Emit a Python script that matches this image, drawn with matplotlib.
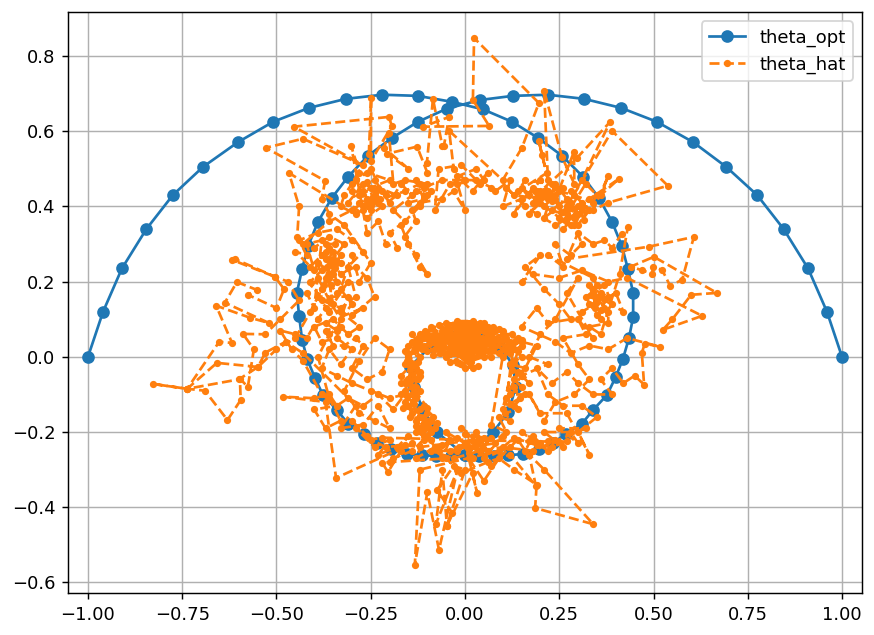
import matplotlib

matplotlib.use("Agg")
import matplotlib.pyplot as plt

# theta_opt, one closed-ish path with a hidden inner loop
opt_outer_left = [(-1.0, 0.0), (-.96, .12), (-.91, .235), (-.845, .34), (-.775, .43), (-.695, .505),
                  (-.602, .571), (-.509, .625), (-.414, .662), (-.316, .686), (-.22, .697),
                  (-.125, .694), (-.034, .678)]
opt_inner_right = [(.048, .658), (.125, .625), (.194, .582), (.257, .535), (.313, .479), (.355, .423),
                   (.39, .359), (.416, .295), (.432, .234), (.446, .17), (.446, .106), (.435, .05),
                   (.419, -.005), (.4, -.053), (.377, -.101), (.34, -.141), (.31, -.178),
                   (.268, -.205), (.233, -.229), (.195, -.245), (.154, -.258), (.115, -.262),
                   (.077, -.263), (.038, -.264), (0.0, -.262)]
opt_inner_loop = [(.075, -.2), (.115, -.146), (.135, -.08), (.127, -.021), (.09, .03), (.04, .055),
                  (-.04, .055), (-.09, .03), (-.146, -.027), (-.135, -.08), (-.114, -.135),
                  (-.075, -.2), (0.0, -.262)]
opt_inner_left = [(-.038, -.264), (-.077, -.263), (-.115, -.262), (-.154, -.258), (-.195, -.245),
                  (-.233, -.229), (-.268, -.205), (-.31, -.178), (-.34, -.141), (-.377, -.101),
                  (-.398, -.056), (-.419, -.005), (-.432, .045), (-.44, .109), (-.446, .17),
                  (-.432, .234), (-.416, .295), (-.39, .359), (-.353, .423), (-.31, .479),
                  (-.257, .535), (-.194, .582), (-.125, .625), (-.048, .66)]
opt_outer_right = [(.04, .683), (.127, .694), (.22, .697), (.316, .686), (.414, .662), (.509, .625),
                   (.605, .571), (.693, .505), (.775, .43), (.845, .34), (.91, .235), (.96, .12),
                   (1.0, 0.0)]

# theta_hat, traced region by region
hat_ring_top = [(.0, .02), (.03, .06), (-.02, .07), (.05, .03), (-.04, .04), (.01, -.01), (.06, .06),
                (-.06, .07), (.02, .08), (-.03, .01), (.07, .02), (-.07, .03), (.0, .05), (.04, .09),
                (-.05, .09), (.08, .07), (-.08, .06), (.02, -.03), (-.01, -.02), (.05, .0), (-.05, .0),
                (.03, .03), (-.02, .05), (.09, .04), (-.1, .05), (.0, .09), (.06, .08), (-.06, .05),
                (.11, .05), (-.11, .03), (.03, .07), (-.03, .08), (.01, .04), (-.01, .06), (.04, .01),
                (-.04, .02), (.07, .05), (-.09, .08), (.1, .07), (-.12, .06), (.12, .04), (-.13, .03),
                (.0, .0), (.02, .06), (-.02, .02), (.05, .07), (-.05, .06), (.08, .03), (-.08, .02),
                (.0, .07), (.14, .05), (.12, .01), (.15, .03), (.1, .02), (.06, .04), (.0, .03),
                (.025, .015), (-.015, .035), (.045, .05), (-.035, .06), (.065, .035), (-.055, .025),
                (.015, -.015), (-.025, -.01), (.035, -.025), (.0, -.03), (-.04, -.015), (.06, .015),
                (.085, .05), (-.075, .05), (.1, .045), (-.095, .035), (.075, .08), (-.07, .085),
                (.02, .095), (-.02, .095), (.05, .09), (-.045, .075), (.09, .075), (-.105, .07),
                (.125, .06), (-.125, .045), (.11, .03), (-.1, .015), (.09, .01), (-.085, .005),
                (.07, .0), (-.065, .01), (.035, .04), (.01, .075), (-.01, .02), (.02, .0)]
hat_ring_left = [(-.11, .05), (-.14, .04), (-.12, .0), (-.15, .01), (-.13, -.03), (-.16, -.02),
                 (-.12, -.05), (-.15, -.06), (-.14, -.02), (-.17, -.05), (-.13, -.08), (-.16, -.09),
                 (-.14, -.06), (-.17, -.1), (-.13, -.11), (-.15, -.13), (-.12, -.09), (-.16, -.12),
                 (-.14, -.15), (-.11, -.13), (-.13, -.17), (-.1, -.15), (-.12, -.19), (-.09, -.17),
                 (-.11, -.21), (-.08, -.19), (-.1, -.18), (-.13, -.2), (-.09, -.22), (-.12, -.16),
                 (-.14, -.1), (-.12, -.04), (-.15, .0), (-.12, .03), (-.1, .06), (-.13, .02),
                 (-.15, .03), (-.135, .015), (-.155, -.01), (-.125, -.015), (-.145, -.035), (-.125, -.06),
                 (-.16, -.07), (-.13, -.095), (-.155, -.105), (-.135, -.125), (-.165, -.135),
                 (-.12, -.14), (-.145, -.16), (-.11, -.165), (-.13, -.185), (-.095, -.19), (-.115, -.2),
                 (-.075, -.175), (-.09, -.2), (-.105, -.17), (-.085, -.16), (-.1, -.135), (-.14, -.08),
                 (-.17, -.07), (-.14, -.045), (-.16, .015), (-.125, .05), (-.14, .06), (-.115, .02)]
hat_ring_right = [(.12, .03), (.15, .0), (.12, -.02), (.16, -.03), (.13, -.06), (.15, -.08), (.12, -.1),
                  (.16, -.1), (.13, -.13), (.11, -.11), (.14, -.04), (.17, -.07), (.13, -.01),
                  (.1, -.14), (.12, -.17), (.09, -.16), (.11, -.2), (.07, -.18), (.1, .0), (.13, .02),
                  (.14, .015), (.125, -.035), (.15, -.05), (.13, -.08), (.145, -.11), (.12, -.125),
                  (.14, -.14), (.105, -.15), (.13, .04), (.15, .045), (.11, .015)]
hat_band = [(-.3, -.17), (-.26, -.21), (-.29, -.19), (-.24, -.24), (-.2, -.22), (-.23, -.26), (-.18, -.24),
            (-.15, -.21), (-.19, -.27), (-.14, -.25), (-.11, -.22), (-.13, -.27), (-.08, -.24), (-.1, -.21),
            (-.06, -.27), (-.04, -.22), (-.07, -.25), (-.02, -.25), (-.05, -.2), (.0, -.23), (.02, -.27),
            (.04, -.22), (-.01, -.19), (.06, -.25), (.03, -.2), (.08, -.23), (.01, -.24), (.1, -.21),
            (.05, -.27), (.12, -.24), (.07, -.29), (.14, -.22), (.16, -.25), (.18, -.21), (.2, -.23),
            (.15, -.2), (.22, -.25), (.24, -.22), (.26, -.24), (.21, -.2), (.28, -.2), (.3, -.23),
            (.25, -.19), (.32, -.19), (.18, -.25), (.1, -.24), (.04, -.25), (-.03, -.27), (-.09, -.25),
            (-.06, -.235), (-.02, -.215), (.01, -.255), (.03, -.235), (-.04, -.25), (.05, -.215),
            (.0, -.205), (.02, -.225), (-.015, -.24), (.045, -.245), (.07, -.215), (-.12, -.24),
            (-.16, -.235), (-.21, -.24), (-.25, -.22), (-.22, -.215), (.17, -.225), (.22, -.225),
            (.27, -.225), (.23, -.24), (.19, -.235), (.13, -.215), (.09, -.25)]
hat_spikes_bottom = [(-.12, -.3), (-.133, -.553), (-.1, -.36), (-.069, -.513), (-.02, -.3), (-.077, -.444),
                     (-.06, -.3), (-.048, -.449), (-.034, -.415), (-.074, -.354), (-.03, -.29), (.0, -.3),
                     (-.048, -.449), (.02, -.31), (.032, -.362), (.01, -.27), (.05, -.33), (.09, -.27),
                     (.13, -.3), (.19, -.34), (.186, -.402), (.34, -.445), (.21, -.3), (.17, -.26),
                     (.188, -.343), (.12, -.26), (.06, -.28), (-.01, -.31), (-.05, -.27), (-.2, -.28),
                     (-.22, -.282), (-.204, -.306), (-.17, -.25), (-.14, -.23)]
hat_left_low = [(-.342, -.322), (-.37, -.12), (-.483, -.106), (-.4, -.11), (-.36, -.1), (-.34, -.13),
                (-.31, -.11), (-.27, -.13), (-.23, -.1), (-.19, -.14), (-.16, -.1), (-.2, -.11),
                (-.25, -.09), (-.3, -.07), (-.34, -.05), (-.38, -.03), (-.36, .02), (-.33, -.02),
                (-.3, .02), (-.34, .05), (-.38, .04), (-.4, .08), (-.35, .1), (-.31, .06), (-.28, .08),
                (-.33, .12), (-.37, .13), (-.39, .1), (-.42, .05), (-.45, .06), (-.49, .07), (-.46, .02),
                (-.43, -.01), (-.38, -.1), (-.34, -.13), (-.4, -.14), (-.37, -.19), (-.33, -.17),
                (-.36, -.11), (-.39, .0), (-.36, .06), (-.33, .08), (-.37, .07), (-.35, .03),
                (-.32, .03), (-.29, .05), (-.27, .03), (-.3, -.03), (-.26, -.06), (-.22, -.04),
                (-.2, .02), (-.24, .05), (-.28, -.01), (-.32, -.09), (-.28, -.15), (-.24, -.17),
                (-.2, -.19), (-.23, -.13), (-.27, -.18), (-.33, -.19), (-.29, -.13)]
hat_left_out = [(-.43, .01), (-.476, .04), (-.53, .011), (-.549, -.027), (-.658, -.016), (-.737, -.085),
                (-.828, -.072), (-.737, -.085), (-.652, .04), (-.618, .037), (-.66, .136), (-.57, .104),
                (-.52, .09), (-.637, .144), (-.605, .199), (-.552, .178), (-.576, .165), (-.5, .13),
                (-.48, .18), (-.504, .213), (-.618, .258), (-.61, .26), (-.504, .213), (-.47, .2),
                (-.44, .15), (-.49, .1), (-.53, .06), (-.589, .061), (-.56, .02), (-.576, -.08),
                (-.597, -.058), (-.595, -.115), (-.63, -.168), (-.69, -.09), (-.737, -.085), (-.6, -.06),
                (-.549, -.027), (-.5, .02), (-.45, .05), (-.41, .12), (-.38, .18)]
hat_left_col = [(-.38, .18), (-.35, .22), (-.39, .25), (-.36, .29), (-.33, .25), (-.37, .21), (-.34, .17),
                (-.31, .2), (-.35, .14), (-.37, .26), (-.4, .29), (-.36, .32), (-.32, .3), (-.35, .26),
                (-.38, .23), (-.41, .2), (-.38, .15), (-.33, .13), (-.29, .16), (-.31, .24), (-.27, .28),
                (-.3, .31), (-.34, .34), (-.39, .33), (-.44, .31), (-.42, .27), (-.45, .28), (-.41, .24),
                (-.37, .28), (-.33, .22), (-.29, .24), (-.26, .21), (-.24, .16), (-.3, .11), (-.27, .13),
                (-.37, .09), (-.34, .07), (-.31, .16), (-.39, .16), (-.36, .12), (-.355, .19), (-.365, .24),
                (-.345, .235), (-.375, .19), (-.35, .28), (-.37, .3), (-.345, .3), (-.36, .26), (-.34, .2),
                (-.36, .21), (-.33, .27), (-.35, .25), (-.38, .27), (-.4, .23), (-.42, .3), (-.38, .31),
                (-.4, .13), (-.42, .17), (-.39, .21), (-.36, .15), (-.33, .1), (-.3, .14), (-.33, .18),
                (-.3, .27), (-.28, .2), (-.25, .25), (-.32, .35), (-.36, .38)]
hat_top_left = [(-.38, .42), (-.371, .468), (-.528, .556), (-.43, .58), (-.27, .51), (-.454, .612), (-.202, .638),
                (-.194, .614), (-.25, .52), (-.249, .689), (-.255, .54), (-.3, .46), (-.26, .49), (-.2, .47),
                (-.25, .45), (-.28, .43), (-.23, .41), (-.27, .39), (-.3, .44), (-.24, .47), (-.21, .43),
                (-.26, .42), (-.29, .47), (-.25, .5), (-.22, .44), (-.27, .46), (-.31, .41), (-.26, .37),
                (-.22, .4), (-.18, .43), (-.23, .45), (-.2, .41), (-.17, .46), (-.14, .43), (-.19, .39),
                (-.16, .36), (-.2, .33), (-.18, .29), (-.21, .3), (-.23, .36), (-.26, .33), (-.302, .561),
                (-.28, .49), (-.32, .43), (-.33, .4), (-.29, .38), (-.467, .489), (-.44, .4), (-.445, .32),
                (-.43, .3), (-.36, .36), (-.3, .39), (-.24, .43), (-.25, .41), (-.27, .44), (-.235, .44),
                (-.26, .465), (-.245, .425), (-.28, .41), (-.25, .39), (-.225, .42), (-.265, .405),
                (-.16, .44), (-.12, .46), (-.15, .41), (-.11, .42), (-.13, .47), (-.09, .44), (-.14, .39),
                (-.13, .36), (-.16, .32), (-.13, .27), (-.1, .22), (-.12, .24), (-.15, .3), (-.17, .35),
                (-.12, .4), (-.1, .46), (-.16, .47), (-.19, .46), (-.202, .596), (-.215, .556), (-.15, .5),
                (-.207, .54), (-.127, .559), (-.1, .49), (-.101, .516), (-.085, .686), (-.06, .56),
                (-.056, .561), (-.042, .638), (-.111, .612), (.064, .614), (.021, .683), (.024, .848),
                (.196, .675), (.151, .556), (.1, .47), (-.042, .601), (-.03, .5), (.0, .47), (-.04, .46),
                (-.08, .39), (-.07, .5), (-.01, .51), (.04, .46), (.06, .49), (.02, .44), (-.02, .48),
                (.03, .5), (.05, .47), (-.06, .47), (-.11, .45), (-.13, .44), (-.1, .43), (-.12, .41),
                (-.06, .42), (-.03, .44), (.0, .39), (-.02, .46), (.03, .47), (.07, .45)]
hat_top_right = [(.08, .44), (.12, .47), (.1, .4), (.15, .42), (.13, .38), (.18, .45), (.2, .41), (.17, .38),
                 (.22, .44), (.25, .4), (.21, .37), (.24, .46), (.27, .42), (.23, .39), (.29, .37),
                 (.26, .34), (.31, .41), (.28, .44), (.33, .39), (.3, .35), (.35, .43), (.32, .46),
                 (.27, .38), (.2, .47), (.17, .43), (.21, .4), (.24, .43), (.18, .41), (.15, .45),
                 (.25, .37), (.28, .41), (.3, .38), (.22, .42), (.19, .44), (.26, .45), (.19, .425),
                 (.21, .44), (.23, .415), (.205, .425), (.185, .44), (.225, .43), (.27, .39), (.285, .395),
                 (.265, .365), (.295, .375), (.28, .35), (.255, .385), (.3, .4), (.315, .365), (.275, .41),
                 (.13, .43), (.11, .45), (.16, .4), (.19, .38), (.24, .35), (.31, .39), (.34, .41),
                 (.29, .43), (.25, .44), (.23, .46), (.16, .47), (.14, .44),
                 (.217, .489), (.204, .537), (.196, .574), (.22, .47), (.21, .707), (.257, .532), (.29, .46),
                 (.289, .545), (.24, .42), (.2, .44), (.297, .529), (.385, .625), (.31, .47), (.27, .4),
                 (.39, .601), (.538, .455), (.38, .41), (.34, .39), (.38, .481), (.36, .43), (.408, .473),
                 (.33, .42), (.29, .35), (.31, .3), (.28, .27), (.24, .3), (.26, .24), (.22, .27)]
hat_right = [(.34, .21), (.36, .17), (.33, .14), (.37, .13), (.34, .18), (.38, .16), (.35, .11), (.32, .16),
             (.37, .19), (.39, .14), (.36, .1), (.33, .19), (.35, .15), (.31, .12), (.4, .17), (.42, .12),
             (.355, .16), (.345, .13), (.37, .155), (.35, .19), (.335, .165), (.36, .125), (.38, .12),
             (.38, .09), (.33, .08), (.36, .06), (.41, .22), (.432, .346), (.416, .327), (.39, .29),
             (.37, .31), (.34, .3), (.3, .33), (.27, .26), (.488, .293), (.607, .319), (.576, .205),
             (.544, .189), (.523, .231), (.499, .239), (.496, .221), (.47, .23), (.44, .24), (.501, .266),
             (.668, .17), (.6, .165), (.55, .1), (.525, .072), (.629, .109), (.43, .21), (.38, .2),
             (.31, .23), (.25, .21), (.18, .22), (.15, .2), (.2, .27), (.16, .24), (.21, .18),
             (.25, .14), (.28, .1), (.22, .09), (.19, .13), (.15, .08), (.24, .04), (.28, .01),
             (.33, .03), (.38, .02), (.43, .05), (.517, .027), (.477, .035), (.469, .011), (.475, -.074),
             (.45, -.05), (.42, -.07), (.39, -.03), (.36, -.06), (.39, -.1), (.34, -.1), (.3, -.07),
             (.27, -.04), (.23, -.07), (.19, -.03), (.22, -.1), (.26, -.13), (.31, -.13), (.35, -.16),
             (.3, -.2), (.33, -.26), (.27, -.15), (.2, -.15), (.17, -.1), (.21, -.17), (.24, -.12),
             (.29, -.1), (.33, -.06), (.3, -.02), (.26, .05), (.32, .06), (.3, .1), (.34, .05),
             (.27, .17), (.3, .21), (.24, .1), (.2, .06), (.17, .0), (.22, -.02), (.15, -.05),
             (.19, .03), (.15, .04)]

theta_opt = opt_outer_left + opt_inner_right + opt_inner_loop + opt_inner_left + opt_outer_right
theta_hat = (hat_band + hat_spikes_bottom + hat_left_low + hat_left_out + hat_left_col + hat_top_left
             + hat_top_right + hat_right + hat_ring_right + hat_ring_top + hat_ring_left)

DPI = 130
fig = plt.figure(figsize=(874 / DPI, 635 / DPI), dpi=DPI)
ax = fig.add_axes([68 / 874, 1 - 593 / 635, 794 / 874, 581 / 635])

ax.plot([p[0] for p in theta_opt], [p[1] for p in theta_opt], "o-", label="theta_opt")
ax.plot([p[0] for p in theta_hat], [p[1] for p in theta_hat], ".--", label="theta_hat")
ax.set_xlim(-1.053, 1.053)
ax.set_ylim(-0.628, 0.917)
ax.grid(True)
ax.legend(loc="upper right")

fig.savefig("out.png", dpi=DPI)
plt.close(fig)
